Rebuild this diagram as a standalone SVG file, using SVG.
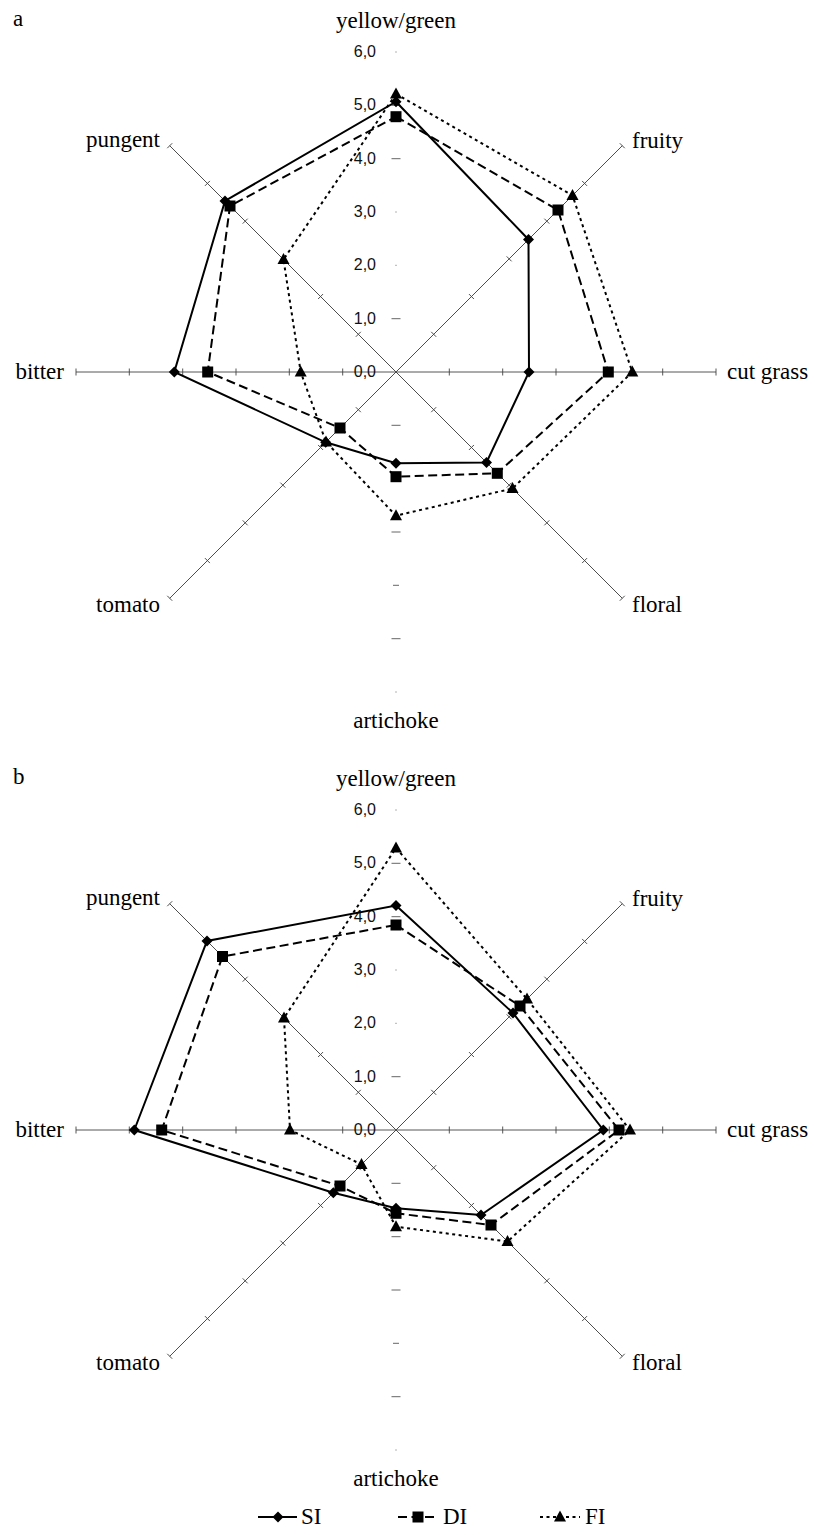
<svg xmlns="http://www.w3.org/2000/svg" xmlns:xlink="http://www.w3.org/1999/xlink" width="815" height="1535" viewBox="0 0 815 1535">
<style>
.cat{font-family:"Liberation Serif","Times New Roman",serif;font-size:23px;fill:#000}
.num{font-family:"Liberation Sans",Arial,sans-serif;font-size:16px;fill:#111;text-anchor:end}
.ax{stroke:#444;stroke-width:0.9;fill:none}
.vt{stroke:#666;stroke-width:1}
.si{fill:none;stroke:#000;stroke-width:2;stroke-linejoin:miter}
.di{fill:none;stroke:#000;stroke-width:2;stroke-dasharray:9 4.5}
.fi{fill:none;stroke:#000;stroke-width:2;stroke-dasharray:3 3.5}
</style>
<defs>
<g id="ray">
<line class="ax" x1="0" y1="0" x2="320" y2="0"/>
<path class="ax" d="M53.3,-3.5V3.5M106.7,-3.5V3.5M160,-3.5V3.5M213.3,-3.5V3.5M266.7,-3.5V3.5M320,-3.5V3.5"/>
</g>
<path id="dia" d="M0,-5.5L5.5,0L0,5.5L-5.5,0Z" fill="#000"/>
<rect id="sq" x="-5.5" y="-5.5" width="11" height="11" fill="#000"/>
<path id="tri" d="M0,-6.5L6,4.5L-6,4.5Z" fill="#000"/>
<g id="frame">
<use xlink:href="#ray"/>
<use xlink:href="#ray" transform="rotate(180)"/>
<use xlink:href="#ray" transform="rotate(-45)"/>
<use xlink:href="#ray" transform="rotate(-135)"/>
<use xlink:href="#ray" transform="rotate(45)"/>
<use xlink:href="#ray" transform="rotate(135)"/>
<path class="vt" d="M-4.5,-53.3H4.5M-0.5,-106.7H0.5M-0.5,-160H0.5M-4.5,-213.3H4.5M-4.5,-266.7H4.5M-0.5,-320H0.5M-4.5,53.3H4.5M-4.5,106.7H4.5M-4.5,160H4.5M-3,213.3H3M-4.5,266.7H4.5M-0.5,320H0.5"/>
</g>
</defs>

<g id="chart-a" transform="translate(396,372)">
<use xlink:href="#frame"/>
<g id="a-labels">
<text class="cat" font-family="Liberation Serif, serif" x="-383" y="-346">a</text>
<text class="num" font-family="Liberation Sans, sans-serif" x="-20" y="5">0,0</text>
<text class="num" font-family="Liberation Sans, sans-serif" x="-20" y="-48.3">1,0</text>
<text class="num" font-family="Liberation Sans, sans-serif" x="-20" y="-101.7">2,0</text>
<text class="num" font-family="Liberation Sans, sans-serif" x="-20" y="-155">3,0</text>
<text class="num" font-family="Liberation Sans, sans-serif" x="-20" y="-208.3">4,0</text>
<text class="num" font-family="Liberation Sans, sans-serif" x="-20" y="-261.7">5,0</text>
<text class="num" font-family="Liberation Sans, sans-serif" x="-20" y="-315">6,0</text>
<text class="cat" font-family="Liberation Serif, serif" x="0" y="-344" text-anchor="middle">yellow/green</text>
<text class="cat" font-family="Liberation Serif, serif" x="236" y="-224">fruity</text>
<text class="cat" font-family="Liberation Serif, serif" x="331" y="7">cut grass</text>
<text class="cat" font-family="Liberation Serif, serif" x="236" y="240">floral</text>
<text class="cat" font-family="Liberation Serif, serif" x="0" y="356" text-anchor="middle">artichoke</text>
<text class="cat" font-family="Liberation Serif, serif" x="-236" y="240" text-anchor="end">tomato</text>
<text class="cat" font-family="Liberation Serif, serif" x="-332" y="7" text-anchor="end">bitter</text>
<text class="cat" font-family="Liberation Serif, serif" x="-236" y="-225" text-anchor="end">pungent</text>
</g>
<g id="a-FI">
<polygon class="fi" points="0,-278 176.5,-176.5 236.3,0 116.5,116.5 0,143.7 -70,70 -95.3,0 -112.5,-112.5"/>
<use xlink:href="#tri" x="0" y="-278"/><use xlink:href="#tri" x="176.5" y="-176.5"/><use xlink:href="#tri" x="236.3" y="0"/><use xlink:href="#tri" x="116.5" y="116.5"/><use xlink:href="#tri" x="0" y="143.7"/><use xlink:href="#tri" x="-70" y="70"/><use xlink:href="#tri" x="-95.3" y="0"/><use xlink:href="#tri" x="-112.5" y="-112.5"/>
</g>
<g id="a-DI">
<polygon class="di" points="0,-255.3 162,-162 212.3,0 101.3,101.3 0,104.7 -56,56 -188.3,0 -166,-166"/>
<use xlink:href="#sq" x="0" y="-255.3"/><use xlink:href="#sq" x="162" y="-162"/><use xlink:href="#sq" x="212.3" y="0"/><use xlink:href="#sq" x="101.3" y="101.3"/><use xlink:href="#sq" x="0" y="104.7"/><use xlink:href="#sq" x="-56" y="56"/><use xlink:href="#sq" x="-188.3" y="0"/><use xlink:href="#sq" x="-166" y="-166"/>
</g>
<g id="a-SI">
<polygon class="si" points="0,-270.3 132.5,-132.5 133,0 90.5,90.5 0,91.3 -70.3,70.3 -221.7,0 -171,-171"/>
<use xlink:href="#dia" x="0" y="-270.3"/><use xlink:href="#dia" x="132.5" y="-132.5"/><use xlink:href="#dia" x="133" y="0"/><use xlink:href="#dia" x="90.5" y="90.5"/><use xlink:href="#dia" x="0" y="91.3"/><use xlink:href="#dia" x="-70.3" y="70.3"/><use xlink:href="#dia" x="-221.7" y="0"/><use xlink:href="#dia" x="-171" y="-171"/>
</g>
</g>

<g id="chart-b" transform="translate(396,1130)">
<use xlink:href="#frame"/>
<g id="b-labels">
<text class="cat" font-family="Liberation Serif, serif" x="-383" y="-346">b</text>
<text class="num" font-family="Liberation Sans, sans-serif" x="-20" y="5">0,0</text>
<text class="num" font-family="Liberation Sans, sans-serif" x="-20" y="-48.3">1,0</text>
<text class="num" font-family="Liberation Sans, sans-serif" x="-20" y="-101.7">2,0</text>
<text class="num" font-family="Liberation Sans, sans-serif" x="-20" y="-155">3,0</text>
<text class="num" font-family="Liberation Sans, sans-serif" x="-20" y="-208.3">4,0</text>
<text class="num" font-family="Liberation Sans, sans-serif" x="-20" y="-261.7">5,0</text>
<text class="num" font-family="Liberation Sans, sans-serif" x="-20" y="-315">6,0</text>
<text class="cat" font-family="Liberation Serif, serif" x="0" y="-344" text-anchor="middle">yellow/green</text>
<text class="cat" font-family="Liberation Serif, serif" x="236" y="-224">fruity</text>
<text class="cat" font-family="Liberation Serif, serif" x="331" y="7">cut grass</text>
<text class="cat" font-family="Liberation Serif, serif" x="236" y="240">floral</text>
<text class="cat" font-family="Liberation Serif, serif" x="0" y="356" text-anchor="middle">artichoke</text>
<text class="cat" font-family="Liberation Serif, serif" x="-236" y="240" text-anchor="end">tomato</text>
<text class="cat" font-family="Liberation Serif, serif" x="-332" y="7" text-anchor="end">bitter</text>
<text class="cat" font-family="Liberation Serif, serif" x="-236" y="-225" text-anchor="end">pungent</text>
</g>
<g id="b-FI">
<polygon class="fi" points="0,-282 131,-131 234,0 111.5,111.5 0,96.7 -34.5,34.5 -106,0 -112,-112"/>
<use xlink:href="#tri" x="0" y="-282"/><use xlink:href="#tri" x="131" y="-131"/><use xlink:href="#tri" x="234" y="0"/><use xlink:href="#tri" x="111.5" y="111.5"/><use xlink:href="#tri" x="0" y="96.7"/><use xlink:href="#tri" x="-34.5" y="34.5"/><use xlink:href="#tri" x="-106" y="0"/><use xlink:href="#tri" x="-112" y="-112"/>
</g>
<g id="b-DI">
<polygon class="di" points="0,-205 124,-124 223,0 95,95 0,83.3 -56,56 -234.3,0 -173.5,-173.5"/>
<use xlink:href="#sq" x="0" y="-205"/><use xlink:href="#sq" x="124" y="-124"/><use xlink:href="#sq" x="223" y="0"/><use xlink:href="#sq" x="95" y="95"/><use xlink:href="#sq" x="0" y="83.3"/><use xlink:href="#sq" x="-56" y="56"/><use xlink:href="#sq" x="-234.3" y="0"/><use xlink:href="#sq" x="-173.5" y="-173.5"/>
</g>
<g id="b-SI">
<polygon class="si" points="0,-224.5 117,-117 207.3,0 85,85 0,78.3 -62.7,62.7 -261.7,0 -189,-189"/>
<use xlink:href="#dia" x="0" y="-224.5"/><use xlink:href="#dia" x="117" y="-117"/><use xlink:href="#dia" x="207.3" y="0"/><use xlink:href="#dia" x="85" y="85"/><use xlink:href="#dia" x="0" y="78.3"/><use xlink:href="#dia" x="-62.7" y="62.7"/><use xlink:href="#dia" x="-261.7" y="0"/><use xlink:href="#dia" x="-189" y="-189"/>
</g>
</g>

<g id="legend">
<line class="si" x1="258" y1="1517" x2="297" y2="1517"/><use xlink:href="#dia" x="278" y="1517"/>
<text class="cat" font-family="Liberation Serif, serif" x="301" y="1524">SI</text>
<line class="di" x1="398" y1="1517" x2="438" y2="1517"/><use xlink:href="#sq" x="418" y="1517"/>
<text class="cat" font-family="Liberation Serif, serif" x="443" y="1524">DI</text>
<line class="fi" x1="540" y1="1517" x2="580" y2="1517"/><use xlink:href="#tri" x="560" y="1517"/>
<text class="cat" font-family="Liberation Serif, serif" x="585" y="1524">FI</text>
</g>
</svg>
